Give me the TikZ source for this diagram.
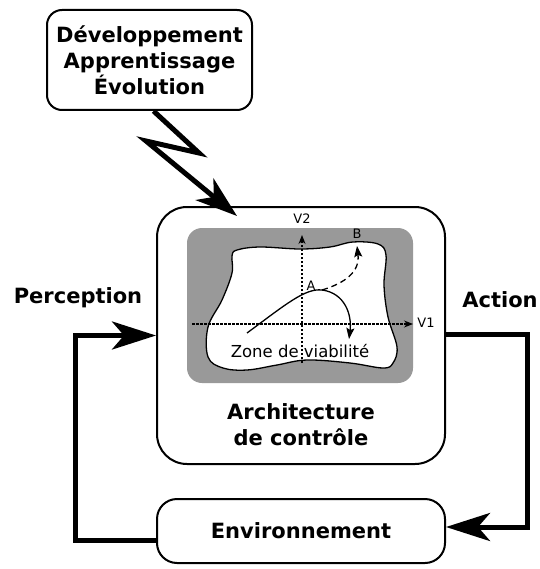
\documentclass[tikz,border=0pt]{standalone}
\usepackage{fontspec}
\setmainfont{DejaVu Sans}
\usetikzlibrary{arrows.meta}
\begin{document}
\begin{tikzpicture}[x=1pt,y=-1pt,
  box/.style={draw, line width=2pt, inner sep=0pt},
  big/.style={font=\bfseries\fontsize{21}{26}\selectfont, align=center},
  fb/.style={line width=5pt, -{Stealth[length=44pt,width=28pt,inset=12pt]}},
  bolt/.style={line width=5pt, line join=miter, miter limit=20, -{Stealth[length=42pt,width=28pt,inset=12pt]}},
  axis/.style={line width=1.2pt, dash pattern=on 2.5pt off 1.5pt, -{Stealth[length=9pt,width=7pt]}},
  small/.style={font=\fontsize{13}{15}\selectfont, inner sep=0pt},
  traj/.style={line width=1.3pt, -{Stealth[length=11pt,width=8pt,inset=2pt]}}]
\useasboundingbox (0,0) rectangle (539,569);

% boxes
\node[box, rounded corners=15pt, minimum width=205pt, minimum height=100pt, big] (dev) at (149.5,60) {Développement\\Apprentissage\\Évolution};
\node[box, rounded corners=30pt, minimum width=288pt, minimum height=257pt] (arch) at (301,335.5) {};
\node[box, rounded corners=20pt, minimum width=288pt, minimum height=64pt, big] (env) at (301,531) {Environnement};

% viability zone
\fill[black!40, rounded corners=15pt] (187,228) rectangle (413,383);
\draw[line width=1.3pt, fill=white] plot[smooth cycle, tension=0.6] coordinates {
 (237,250) (260,247) (300,249) (330,247) (353,242) (378,244) (386,255)
 (384,285) (388,317) (397,347) (393,363) (383,368)
 (350,363) (307,360) (277,365) (247,370) (223,368)
 (208,357) (208,327) (222,300) (232,273) (232,256)};

\coordinate (v1s) at (192,324);
\coordinate (v1e) at (413,324);
\coordinate (v2s) at (302,363);
\coordinate (v2e) at (302,235);
\draw[axis] (v1s) -- (v1e);
\draw[axis] (v2s) -- (v2e);
\node[small] (v1) at (426,323) {V1};
\node[small] (v2) at (302,219) {V2};
\node[small] (la) at (311,286) {A};
\node[small] (lb) at (357,234) {B};

\coordinate (t0) at (247,333);
\coordinate (tA) at (322,290);
\coordinate (t1) at (349,339);
\coordinate (tB) at (357,246);
\draw[traj] (t0) .. controls (285,305) and (305,288) .. (tA) .. controls (345,293) and (352,315) .. (t1);
\draw[traj, dash pattern=on 6pt off 4pt] (tA) .. controls (345,283) and (360,272) .. (tB);

\node[font=\fontsize{16.5}{19}\selectfont] (zone) at (300,351) {Zone de viabilité};

% labels
\node[big] (archlabel) at (301,425) {Architecture\\de contrôle};
\node[big] (perc) at (78,298) {Perception};
\node[big] (act) at (500,300) {Action};

% lightning
\coordinate (b1) at (199,153);
\coordinate (b2) at (146,141);
\coordinate (btip) at (237,216);
\draw[bolt] ([xshift=4pt]dev.south) -- (b1) -- (b2) -- (btip);

% feedback loops
\coordinate (lc) at (75,540);
\coordinate (rc) at (527,334);
\draw[fb] (env.west |- lc) -- (lc) |- (arch.west);
\draw[fb] (arch.east |- rc) -- (rc) |- ([yshift=4pt]env.east);
\end{tikzpicture}
\end{document}
